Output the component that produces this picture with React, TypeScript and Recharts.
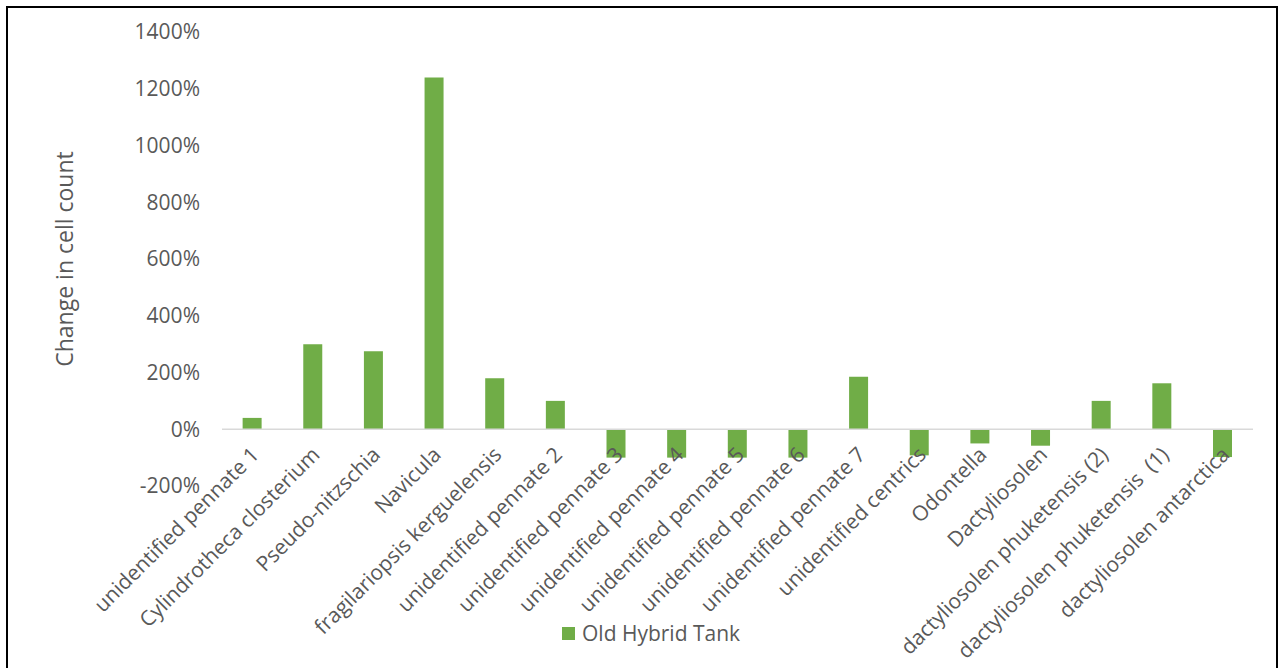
import React from "react";
import { BarChart, Bar, XAxis, YAxis, ReferenceLine } from "recharts";

// Species and % change in cell count
const species = [
  "unidentified pennate 1",
  "Cylindrotheca closterium",
  "Pseudo-nitzschia",
  "Navicula",
  "fragilariopsis kerguelensis",
  "unidentified pennate 2",
  "unidentified pennate 3",
  "unidentified pennate 4",
  "unidentified pennate 5",
  "unidentified pennate 6",
  "unidentified pennate 7",
  "unidentified centrics",
  "Odontella",
  "Dactyliosolen",
  "dactyliosolen phuketensis (2)",
  "dactyliosolen phuketensis  (1)",
  "dactyliosolen antarctica",
];

const oldHybridTank = [
  40, 300, 275, 1240, 180, 100, -100, -100, -100, -100, 185, -92, -50, -58,
  100, 162, -98,
];

const yTicks = [-200, 0, 200, 400, 600, 800, 1000, 1200, 1400];

const seriesName = "Old Hybrid Tank";
const yTitle = "Change in cell count";

const data = species.map((name, i) => ({ name, value: oldHybridTank[i] }));

const FONT = "'Open Sans', sans-serif";
const TEXT = "#595959";
const GREEN = "#70AD47";

// category labels sit just under the zero line, rotated 45°
const XTick = ({ x, y, payload }: any) => (
  <g transform={`translate(${x + 8},${y - 38})`}>
    <text
      textAnchor="end"
      transform="rotate(-45)"
      fill={TEXT}
      fontSize={21}
      fontFamily={FONT}
      style={{ whiteSpace: "pre" }}
    >
      {payload.value}
    </text>
  </g>
);

const YTitle = ({ viewBox }: any) => {
  const cx = viewBox.x + 64;
  const cy = viewBox.y + viewBox.height / 2;
  return (
    <text
      x={cx}
      y={cy}
      textAnchor="middle"
      dominantBaseline="central"
      transform={`rotate(-90, ${cx}, ${cy})`}
      fill={TEXT}
      fontSize={23}
      fontFamily={FONT}
    >
      {yTitle}
    </text>
  );
};

export default function App() {
  return (
    <div
      style={{
        position: "absolute",
        left: 0,
        top: 0,
        width: 1278,
        height: 668,
        background: "#fff",
        overflow: "hidden",
      }}
    >
      <div
        style={{
          position: "absolute",
          left: 6,
          top: 6,
          width: 1272,
          height: 720,
          border: "2px solid #000",
          boxSizing: "border-box",
        }}
      />
      <div style={{ position: "absolute", left: 0, top: 0 }}>
        <BarChart
          width={1278}
          height={668}
          data={data}
          margin={{ top: 32, right: 25, left: 0, bottom: 0 }}
          barCategoryGap="34%"
        >
          <XAxis
            dataKey="name"
            interval={0}
            axisLine={false}
            tickLine={false}
            height={182}
            tick={<XTick />}
          />
          <YAxis
            width={222}
            domain={[-200, 1400]}
            ticks={yTicks}
            axisLine={false}
            tickLine={false}
            tickMargin={16}
            tickFormatter={(v: number) => `${v}%`}
            tick={{ fill: TEXT, fontSize: 21, fontFamily: FONT }}
            label={<YTitle />}
          />
          <ReferenceLine y={0} stroke="#D9D9D9" strokeWidth={1.5} />
          <Bar
            dataKey="value"
            name={seriesName}
            fill={GREEN}
            isAnimationActive={false}
          />
        </BarChart>
      </div>
      {/* legend */}
      <div
        style={{
          position: "absolute",
          left: 562,
          top: 619,
          display: "flex",
          alignItems: "center",
          gap: 7,
          fontFamily: FONT,
          fontSize: 21,
          color: TEXT,
          whiteSpace: "nowrap",
        }}
      >
        <span
          style={{
            width: 13,
            height: 13,
            background: GREEN,
            display: "inline-block",
          }}
        />
        {seriesName}
      </div>
    </div>
  );
}
